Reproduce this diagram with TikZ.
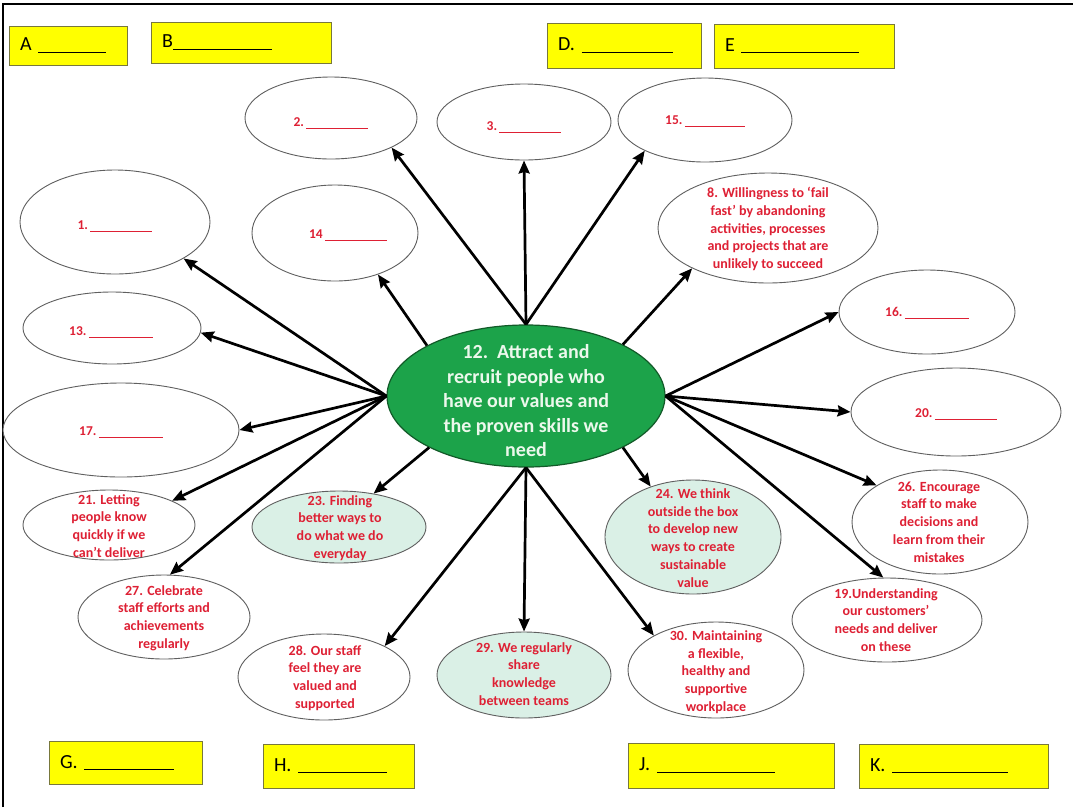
\documentclass[tikz,border=0pt]{standalone}
\usepackage{fontspec}
\setmainfont{Carlito}
\usetikzlibrary{shapes.geometric,arrows.meta}
\definecolor{redt}{RGB}{222,32,52}
\definecolor{mint}{RGB}{218,240,230}
\definecolor{cgreen}{RGB}{28,163,74}
\definecolor{cgreenD}{RGB}{18,90,40}
\definecolor{ybox}{RGB}{255,255,0}
\definecolor{yline}{RGB}{120,120,60}
\definecolor{eline}{RGB}{95,95,95}
\definecolor{ctext}{RGB}{236,248,236}
\newcommand{\blank}[1]{\rule[-1.5pt]{#1pt}{0.6pt}}
\newcommand{\yblank}[1]{\rule[-2pt]{#1pt}{1.2pt}}
\begin{document}
\begin{tikzpicture}[x=1pt,y=-1pt,
  ell/.style={ellipse, draw=eline, line width=0.9pt, fill=white, inner sep=0pt},
  mintell/.style={ell, fill=mint},
  rtxt/.style={text=redt, font=\fontsize{14}{17.8}\selectfont\bfseries, align=center, inner sep=0pt},
  btxt/.style={text=redt, font=\fontsize{13.5}{15}\selectfont\bfseries, inner sep=0pt},
  yb/.style={rectangle, draw=yline, fill=ybox, line width=0.9pt, inner xsep=11pt, inner ysep=0pt,
     align=left, font=\fontsize{20}{22}\selectfont},
  arr/.style={line width=2.7pt, -{Stealth[length=13pt,width=11pt,inset=1.5pt]}},
]
\useasboundingbox (0,0) rectangle (1073,807);
\fill[white] (0,0) rectangle (1073,807);
\draw[line width=1.6pt] (3,807) -- (3,4) -- (1073,4);

% yellow boxes
\node[yb, minimum width=118pt, minimum height=39pt, text width=96pt] (A) at (68,45.5) {A~\yblank{68}};
\node[yb, minimum width=180pt, minimum height=41pt, text width=158pt] (B) at (241,42.5) {B\yblank{99}};
\node[yb, minimum width=154pt, minimum height=45pt, text width=132pt] (D) at (624,45.5) {D.~\yblank{91}};
\node[yb, minimum width=180pt, minimum height=44pt, text width=158pt] (E) at (804,46) {E~\yblank{118}};
\node[yb, minimum width=153pt, minimum height=43pt, text width=131pt] (G) at (125.5,762.5) {G.~\yblank{90}};
\node[yb, minimum width=151pt, minimum height=44pt, text width=129pt] (H) at (338.5,766) {H.~\yblank{89}};
\node[yb, minimum width=206pt, minimum height=45pt, text width=184pt] (J) at (731,765.5) {J.~\yblank{118}};
\node[yb, minimum width=189pt, minimum height=44pt, text width=167pt] (K) at (953.5,766) {K.~\yblank{116}};

% blank ellipses
\node[ell, minimum width=172pt, minimum height=82pt] (e2) at (331,118) {};
\node[btxt] at (331,123) {2.\,\blank{62}};
\node[ell, minimum width=174pt, minimum height=76pt] (e3) at (524,122) {};
\node[btxt] at (524,127) {3.\,\blank{62}};
\node[ell, minimum width=174pt, minimum height=84pt] (e15) at (705,120) {};
\node[btxt] at (705,121) {15.\,\blank{60}};
\node[ell, minimum width=190pt, minimum height=104pt] (e1) at (115,222) {};
\node[btxt] at (115,226) {1.\,\blank{62}};
\node[ell, minimum width=166pt, minimum height=96pt] (e14) at (335,233) {};
\node[btxt] at (348,235) {14\,\blank{62}};
\node[ell, minimum width=178pt, minimum height=72pt] (e13) at (112,328) {};
\node[btxt] at (111,332) {13.\,\blank{64}};
\node[ell, minimum width=236pt, minimum height=94pt] (e17) at (121,430) {};
\node[btxt] at (121,432) {17.\,\blank{64}};
\node[ell, minimum width=176pt, minimum height=84pt] (e16) at (927,312) {};
\node[btxt] at (927,313) {16.\,\blank{64}};
\node[ell, minimum width=210pt, minimum height=88pt] (e20) at (956,412) {};
\node[btxt] at (956,414) {20.\,\blank{62}};

% text ellipses
\node[ell, minimum width=220pt, minimum height=110pt] (e8) at (768,228) {};
\node[rtxt] at (768,229) {8. Willingness to ‘fail\\fast’ by abandoning\\activities, processes\\and projects that are\\unlikely to succeed};
\node[ell, minimum width=172pt, minimum height=70pt] (e21) at (109,525) {};
\node[rtxt] at (109,526) {21. Letting\\people know\\quickly if we\\can’t deliver};
\node[mintell, minimum width=174pt, minimum height=72pt] (e23) at (339,527) {};
\node[rtxt] at (340,528) {23. Finding\\better ways to\\do what we do\\everyday};
\node[ell, minimum width=172pt, minimum height=84pt] (e27) at (164,617) {};
\node[rtxt] at (164,618) {27. Celebrate\\staff efforts and\\achievements\\regularly};
\node[ell, minimum width=172pt, minimum height=86pt] (e28) at (324,677) {};
\node[rtxt] at (325,678) {28. Our staff\\feel they are\\valued and\\supported};
\node[mintell, minimum width=174pt, minimum height=86pt] (e29) at (524,675) {};
\node[rtxt] at (524,674) {29. We regularly\\share\\knowledge\\between teams};
\node[mintell, minimum width=176pt, minimum height=114pt] (e24) at (693,537) {};
\node[rtxt] at (693,538) {24. We think\\outside the box\\to develop new\\ways to create\\sustainable\\value};
\node[ell, minimum width=176pt, minimum height=96pt] (e30) at (716,670) {};
\node[rtxt] at (716,672) {30. Maintaining\\a flexible,\\healthy and\\supportive\\workplace};
\node[ell, minimum width=176pt, minimum height=104pt] (e26) at (940,522) {};
\node[rtxt] at (939,522) {26. Encourage\\staff to make\\decisions and\\learn from their\\mistakes};
\node[ell, minimum width=190pt, minimum height=84pt] (e19) at (887,620) {};
\node[rtxt] at (886,620) {19.Understanding\\our customers’\\needs and deliver\\on these};

% centre
\node[ellipse, draw=cgreenD, line width=1.2pt, fill=cgreen, inner sep=0pt, minimum width=278pt, minimum height=142pt] (c) at (526,396) {};
\node[text=ctext, font=\fontsize{20}{24.5}\selectfont\bfseries, align=center, inner sep=0pt] at (526,401)
  {12.~~Attract and\\recruit people who\\have our values and\\the proven skills we\\need};

% arrows
\draw[arr] (c.north) -- (e2.-26);
\draw[arr] (c.north) -- (e3.south);
\draw[arr] (c.north) -- (e15.-153);
\draw[arr] (c.153) -- (e14.-44);
\draw[arr] (c.west) -- (e1.-28);
\draw[arr] (c.west) -- (e13.-3);
\draw[arr] (c.west) -- (e17.east);
\draw[arr] (c.west) -- (e21.21);
\draw[arr] (c.west) -- (e27.82);
\draw[arr] (c.-152) -- (e23.44);
\draw[arr] (c.south) -- (e28.27);
\draw[arr] (c.south) -- (e29.north);
\draw[arr] (c.south) -- (e30.151);
\draw[arr] (c.-28) -- (e24.130);
\draw[arr] (c.28) -- (e8.-152);
\draw[arr] (c.east) -- (e16.west);
\draw[arr] (c.east) -- (e20.west);
\draw[arr] (c.east) -- (e26.150);
\draw[arr] (c.east) -- (e19.95);
\end{tikzpicture}
\end{document}
